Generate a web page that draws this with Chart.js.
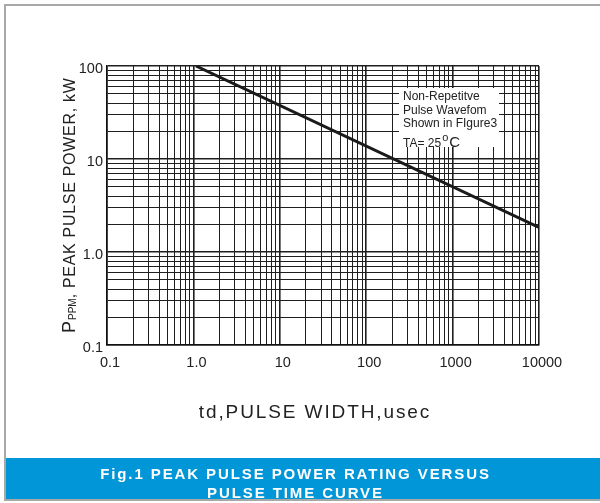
<!DOCTYPE html>
<html><head><meta charset="utf-8">
<script src="https://cdn.jsdelivr.net/npm/chart.js@4"></script>
<style>
html,body{margin:0;padding:0;background:#fff;width:600px;height:503px;overflow:hidden;font-family:"Liberation Sans",Arial,sans-serif;}
#frame{position:absolute;left:4px;top:4px;width:640px;height:497px;border:2px solid #a8a8a8;box-sizing:border-box;}
#banner{position:absolute;left:6px;top:458px;width:594px;height:41px;background:#0096d8;color:#fff;font-weight:bold;font-size:15px;letter-spacing:1.9px;text-align:center;line-height:18.5px;padding-top:7px;padding-right:15px;box-sizing:border-box;}
#chart{position:absolute;left:0;top:0;}
#note{position:absolute;left:399px;top:88px;width:100px;height:59px;background:#fff;color:#222;font-size:12px;line-height:13.5px;padding:2px 0 0 4px;box-sizing:border-box;white-space:nowrap;}
#note .deg{font-size:15px;}
#note .deg sup{font-size:11px;position:relative;top:0px;margin:0 1px;}
</style>
</head><body>
<div id="frame"></div>
<canvas id="chart" width="600" height="503"></canvas>
<div id="note">Non-Repetitve<br>Pulse Wavefom<br>Shown in FIgure3<br>TA= 25<span class="deg"><sup>o</sup>C</span></div>
<div id="banner">Fig.1 PEAK PULSE POWER RATING VERSUS<br>PULSE TIME CURVE</div>
<script>
// ---- data ----
const xTickValues = [0.1, 1, 10, 100, 1000, 10000];
const xTickLabels = ['0.1', '1.0', '10', '100', '1000', '10000'];
const yTickValues = [0.1, 1, 10, 100];
const yTickLabels = ['0.1', '1.0', '10', '100'];
const minorSteps = [2, 3, 4, 5, 6, 7, 8, 9];
const pulseWidth = [1.07, 10000];   // td, usec
const peakPower = [100, 1.84];      // PPPM, kW
const xTitle = 'td,PULSE WIDTH,usec';
const yTitleMain = 'P';
const yTitleSub = 'PPM';
const yTitleRest = ', PEAK PULSE POWER, kW';

function buildTicks(values) {
  const t = [];
  for (let i = 0; i < values.length - 1; i++) {
    t.push(values[i]);
    for (const m of minorSteps) t.push(values[i] * m);
  }
  t.push(values[values.length - 1]);
  return t;
}
function isMajor(values, v) {
  return values.findIndex(x => Math.abs(x - v) / x < 1e-6);
}

const titlePlugin = {
  id: 'titles',
  afterDraw(chart) {
    const ctx = chart.ctx;
    ctx.save();
    ctx.fillStyle = '#222';
    ctx.font = '19px "Liberation Sans"';
    ctx.letterSpacing = '1.9px';
    ctx.textAlign = 'center';
    ctx.textBaseline = 'middle';
    ctx.fillText(xTitle, 315, 413);
    ctx.restore();

    ctx.save();
    ctx.fillStyle = '#222';
    ctx.translate(75, 333);
    ctx.rotate(-Math.PI / 2);
    ctx.textAlign = 'left';
    ctx.textBaseline = 'alphabetic';
    ctx.font = '18px "Liberation Sans"';
    ctx.fillText(yTitleMain, 0, 0);
    let w = ctx.measureText(yTitleMain).width + 1;
    ctx.font = '10px "Liberation Sans"';
    ctx.fillText(yTitleSub, w, 1);
    w += ctx.measureText(yTitleSub).width;
    ctx.font = '16px "Liberation Sans"';
    ctx.letterSpacing = '0.7px';
    ctx.fillText(yTitleRest, w, 0);
    ctx.restore();
  }
};

const gridColor = '#1e1e1e';
new Chart(document.getElementById('chart'), {
  type: 'line',
  data: {
    datasets: [{
      data: pulseWidth.map((x, i) => ({ x: x, y: peakPower[i] })),
      borderColor: '#1a1a1a',
      borderWidth: 3,
      pointRadius: 0,
      fill: false,
      tension: 0
    }]
  },
  options: {
    responsive: false,
    animation: false,
    devicePixelRatio: 1,
    layout: { padding: { left: 67, right: 61, top: 66, bottom: 128 } },
    plugins: { legend: { display: false }, tooltip: { enabled: false } },
    scales: {
      x: {
        type: 'logarithmic',
        min: xTickValues[0],
        max: xTickValues[xTickValues.length - 1],
        afterBuildTicks: s => { s.ticks = buildTicks(xTickValues).map(v => ({ value: v })); },
        afterFit: s => { s.height = 30; },
        grid: {
          color: gridColor,
          lineWidth: c => (c.tick && isMajor(xTickValues, c.tick.value) >= 0) ? 1.6 : 1,
          drawTicks: false
        },
        border: { color: '#111', width: 1.5 },
        ticks: {
          autoSkip: false,
          maxRotation: 0,
          padding: 9,
          labelOffset: 3,
          color: '#222',
          font: { family: 'Liberation Sans', size: 14.5 },
          callback: v => { const i = isMajor(xTickValues, v); return i >= 0 ? xTickLabels[i] : ''; }
        }
      },
      y: {
        type: 'logarithmic',
        min: yTickValues[0],
        max: yTickValues[yTickValues.length - 1],
        afterBuildTicks: s => { s.ticks = buildTicks(yTickValues).map(v => ({ value: v })); },
        afterFit: s => { s.width = 40; },
        grid: {
          color: gridColor,
          lineWidth: c => (c.tick && isMajor(yTickValues, c.tick.value) >= 0) ? 1.6 : 1,
          drawTicks: false
        },
        border: { color: '#111', width: 1.5 },
        ticks: {
          autoSkip: false,
          padding: 4,
          labelOffset: 3,
          color: '#222',
          font: { family: 'Liberation Sans', size: 14.5 },
          callback: v => { const i = isMajor(yTickValues, v); return i >= 0 ? yTickLabels[i] : ''; }
        }
      }
    }
  },
  plugins: [titlePlugin]
});
</script>
</body></html>
